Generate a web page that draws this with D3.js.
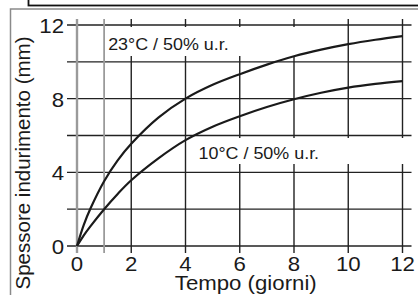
<!DOCTYPE html>
<html><head><meta charset="utf-8">
<script src="https://cdn.jsdelivr.net/npm/d3@7"></script>
<style>
html,body{margin:0;padding:0;background:#fff;overflow:hidden}
svg{display:block}
text{font-family:"Liberation Sans",Arial,Helvetica,sans-serif;fill:#1a1a1a}
</style></head>
<body><svg id="c" width="418" height="295"></svg>
<script>
const days   = [0, 0.25, 0.5, 1, 1.5, 2, 3, 4, 5, 6, 7, 8, 9, 10, 11, 12];
const hard23 = [0, 1.15, 2.05, 3.52, 4.65, 5.55, 6.97, 8.0, 8.75, 9.33, 9.85, 10.3, 10.66, 10.96, 11.2, 11.4];
const hard10 = [0, 0.58, 1.08, 2.0, 2.83, 3.57, 4.76, 5.75, 6.48, 7.05, 7.55, 7.97, 8.32, 8.6, 8.8, 8.95];
const xTicks = [0, 2, 4, 6, 8, 10, 12];
const yTicks = [0, 4, 8, 12];
const xGrid = [0, 1, 2, 4, 6, 8, 10, 12];
const yGrid = [0, 2, 4, 6, 8, 10, 12];
const xTitle = "Tempo (giorni)";
const yTitle = "Spessore indurimento (mm)";
const label23 = "23°C / 50% u.r.";
const label10 = "10°C / 50% u.r.";

const svg = d3.select("#c");
const x = d3.scaleLinear().domain([0, 12]).range([77, 402.5]);
const y = d3.scaleLinear().domain([0, 12]).range([246, 25]);

// outer frames
svg.append("rect").attr("x", 10.5).attr("y", 9).attr("width", 420).attr("height", 300)
  .attr("fill", "none").attr("stroke", "#8a8a8a").attr("stroke-width", 1.5);
svg.append("rect").attr("x", 28.5).attr("y", -10).attr("width", 400).attr("height", 15.5)
  .attr("fill", "none").attr("stroke", "#111").attr("stroke-width", 1.8);

const g = svg.append("g");
// horizontal grid
g.selectAll("line.h").data(yGrid).enter().append("line")
  .attr("x1", x(0) - 10).attr("x2", x(12) + 9)
  .attr("y1", d => y(d)).attr("y2", d => y(d))
  .attr("stroke", "#222").attr("stroke-width", 1.4);
// vertical grid
g.selectAll("line.v").data(xGrid).enter().append("line")
  .attr("x1", d => x(d)).attr("x2", d => x(d))
  .attr("y1", y(12) - 6).attr("y2", y(0) + 7)
  .attr("stroke", d => d <= 1 ? "#9a9a9a" : "#222")
  .attr("stroke-width", d => d === 0 ? 2.4 : (d === 1 ? 1.8 : 1.4));

// label background boxes
svg.append("rect").attr("x", x(1) + 2).attr("y", y(12) + 2).attr("width", 198).attr("height", 29).attr("fill", "#fff");
svg.append("rect").attr("x", x(4) + 5).attr("y", y(6) + 2.5).attr("width", 216).attr("height", 26).attr("fill", "#fff");

// curves
const line = d3.line().x(d => x(d[0])).y(d => y(d[1])).curve(d3.curveCatmullRom.alpha(0.5));
[hard23, hard10].forEach(s => {
  svg.append("path").datum(days.map((d, i) => [d, s[i]]))
    .attr("d", line).attr("fill", "none").attr("stroke", "#1a1a1a").attr("stroke-width", 2.2);
});

// labels
function stext(px, py, txt, size, anchor, sx) {
  svg.append("text").attr("transform", `translate(${px},${py}) scale(${sx},1)`)
    .attr("text-anchor", anchor).attr("font-size", size).text(txt);
}
stext(x(1) + 4, y(12) + 25, label23, 16, "start", 1.12);
stext(x(4) + 13, y(6) + 23, label10, 16, "start", 1.12);

// tick labels
yTicks.forEach(d => stext(x(0) - 13, y(d) + 8, String(d), 19.5, "end", 1.14));
xTicks.forEach(d => stext(x(d), 270.5, String(d), 19.5, "middle", 1.14));

// axis titles
stext((x(0) + x(12)) / 2 + 6, 290, xTitle, 19.5, "middle", 1.14);
svg.append("text").attr("transform", `translate(29.5,163) rotate(-90)`)
  .attr("text-anchor", "middle").attr("font-size", 20.5).text(yTitle);
</script></body></html>
